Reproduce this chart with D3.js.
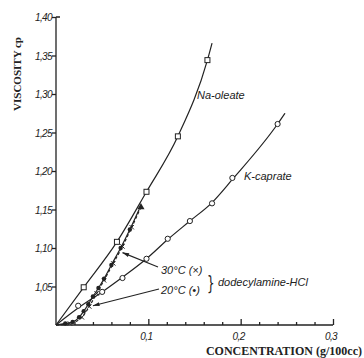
<!DOCTYPE html>
<html>
<head>
<meta charset="utf-8">
<script src="https://cdn.jsdelivr.net/npm/d3@7"></script>
<style>
body{margin:0;background:#fff;}
.tk{font-family:"Liberation Sans",sans-serif;font-style:italic;font-size:10px;letter-spacing:-0.6px;fill:#222;}
.lab{font-family:"Liberation Sans",sans-serif;font-style:italic;font-size:11px;fill:#222;}
.ttl{font-family:"Liberation Serif",serif;font-weight:bold;fill:#222;}
</style>
</head>
<body>
<div id="chart"></div>
<script>
// values (concentration g/100cc, viscosity cp)
var yTicks=[1.05,1.10,1.15,1.20,1.25,1.30,1.35,1.40];
var xTicks=[0.1,0.2,0.3];
var xMinor=d3.range(0.02,0.301,0.02);

var naLine=[[0,1.0],[0.030,1.049],[0.066,1.108],[0.098,1.173],[0.132,1.245],[0.164,1.344],[0.169,1.366]];
var naPts=[[0.030,1.049],[0.066,1.108],[0.098,1.173],[0.132,1.245],[0.164,1.344]];

var kLine=[[0,1.0],[0.024,1.022],[0.050,1.043],[0.072,1.062],[0.098,1.086],[0.121,1.111],[0.145,1.135],[0.169,1.159],[0.191,1.189],[0.240,1.261],[0.248,1.275]];
var kPts=[[0.024,1.025],[0.050,1.043],[0.072,1.061],[0.098,1.086],[0.121,1.112],[0.145,1.135],[0.169,1.158],[0.191,1.191],[0.240,1.261]];

var d20=[[0,1.0],[0.010,1.002],[0.018,1.004],[0.025,1.010],[0.030,1.018],[0.035,1.027],[0.040,1.037],[0.046,1.048],[0.052,1.060],[0.060,1.078],[0.070,1.100],[0.080,1.124],[0.090,1.150]];
var d30=[[0,1.0],[0.015,1.002],[0.028,1.010],[0.036,1.024],[0.044,1.041],[0.052,1.058],[0.062,1.080],[0.072,1.102],[0.082,1.127],[0.092,1.153]];

var W=364,H=358;
var x=d3.scaleLinear().domain([0,0.3]).range([56,333]);
var y=d3.scaleLinear().domain([1.0,1.4]).range([325,17]);

var svg=d3.select("#chart").append("svg").attr("width",W).attr("height",H);
svg.append("defs").append("marker")
	.attr("id","arr").attr("viewBox","0 0 10 10").attr("refX",10).attr("refY",5)
	.attr("markerWidth",7).attr("markerHeight",6).attr("orient","auto")
	.append("path").attr("d","M0,2L10,5L0,8z").attr("fill","#222");

// axes - ticks pointing inward on x, outward on y
var yAx=svg.append("g").attr("transform","translate(56,0)")
	.call(d3.axisLeft(y).tickValues(yTicks).tickSize(4).tickFormat(function(d){return d3.format(".2f")(d).replace(".",",");}));
yAx.select(".domain").attr("d","M0,"+y(1.4)+"H4M0,"+y(1.4)+"V"+y(1.0));
yAx.selectAll("text").attr("class","tk").attr("x",-4).attr("dy","0.35em");

var xAx=svg.append("g").attr("transform","translate(0,325)")
	.call(d3.axisBottom(x).tickValues(xMinor).tickSize(-3).tickFormat(""));
xAx.select(".domain").attr("d","M"+x(0)+",0H"+x(0.3));
xAx.selectAll(".tick line").attr("y2",function(d){return Math.abs(d*10-Math.round(d*10))<1e-6?-6:-3;});
svg.selectAll(".domain,.tick line").attr("stroke","#222").attr("stroke-width",1.3);

svg.selectAll(".xl").data(xTicks).enter().append("text").attr("class","tk")
	.attr("x",function(d){return x(d)-2;}).attr("y",340).attr("text-anchor","middle")
	.text(function(d){return d3.format(".1f")(d).replace(".",",");});

svg.append("text").attr("class","ttl").attr("font-size",12).attr("text-anchor","end")
	.attr("x",362).attr("y",355).text("CONCENTRATION (g/100cc)");
svg.append("text").attr("class","ttl").attr("font-size",11).attr("text-anchor","middle")
	.attr("transform","translate(21,74) rotate(-90)").text("VISCOSITY cp");

var line=d3.line().x(function(d){return x(d[0]);}).y(function(d){return y(d[1]);}).curve(d3.curveMonotoneX);

svg.append("path").attr("d",line(naLine)).attr("fill","none").attr("stroke","#222").attr("stroke-width",1.2);
svg.append("path").attr("d",line(kLine)).attr("fill","none").attr("stroke","#222").attr("stroke-width",1.2);
svg.append("path").attr("d",line(d20)).attr("fill","none").attr("stroke","#222").attr("stroke-width",1.2);
svg.append("path").attr("d",line(d30)).attr("fill","none").attr("stroke","#222").attr("stroke-width",1.2).attr("stroke-dasharray","3,2");

// markers
svg.selectAll(".na").data(naPts).enter().append("rect")
	.attr("x",function(d){return x(d[0])-2.5;}).attr("y",function(d){return y(d[1])-2.5;})
	.attr("width",5).attr("height",5).attr("fill","#fff").attr("stroke","#222");
svg.selectAll(".k").data(kPts).enter().append("circle")
	.attr("cx",function(d){return x(d[0]);}).attr("cy",function(d){return y(d[1]);})
	.attr("r",2.6).attr("fill","#fff").attr("stroke","#222");
svg.selectAll(".d20").data(d20.slice(1,-1)).enter().append("circle")
	.attr("cx",function(d){return x(d[0]);}).attr("cy",function(d){return y(d[1]);})
	.attr("r",2.2).attr("fill","#222");
svg.selectAll(".d30").data(d30.slice(1,-1)).enter().append("path")
	.attr("transform",function(d){return "translate("+x(d[0])+","+y(d[1])+")";})
	.attr("d",d3.symbol(d3.symbolX,14)).attr("stroke","#222").attr("fill","none");
var top30=d30[d30.length-1];
svg.append("path").attr("transform","translate("+x(top30[0])+","+y(top30[1])+")")
	.attr("d",d3.symbol(d3.symbolTriangle,22)).attr("fill","#222");

// labels
svg.append("text").attr("class","lab").attr("x",197).attr("y",99).text("Na-oleate");
svg.append("text").attr("class","lab").attr("x",244).attr("y",180).text("K-caprate");
svg.append("text").attr("class","lab").attr("x",161).attr("y",274).text("30°C (×)");
svg.append("text").attr("class","lab").attr("x",161).attr("y",294).text("20°C (•)");
svg.append("text").attr("class","lab").attr("x",218).attr("y",286).text("dodecylamine-HCl");
svg.append("text").attr("x",207).attr("y",290).attr("font-family","DejaVu Sans").attr("font-size",20)
	.attr("transform","translate(207,290) scale(0.6,1) translate(-207,-290)").attr("fill","#222").text("}");

// arrows from the temperature labels to their curves
svg.append("line").attr("x1",158).attr("y1",267).attr("x2",x(0.072)).attr("y2",y(1.094))
	.attr("stroke","#222").attr("stroke-width",1.1).attr("marker-end","url(#arr)");
svg.append("line").attr("x1",159).attr("y1",289).attr("x2",x(0.040)).attr("y2",y(1.025))
	.attr("stroke","#222").attr("stroke-width",1.1).attr("marker-end","url(#arr)");
</script>
</body>
</html>
